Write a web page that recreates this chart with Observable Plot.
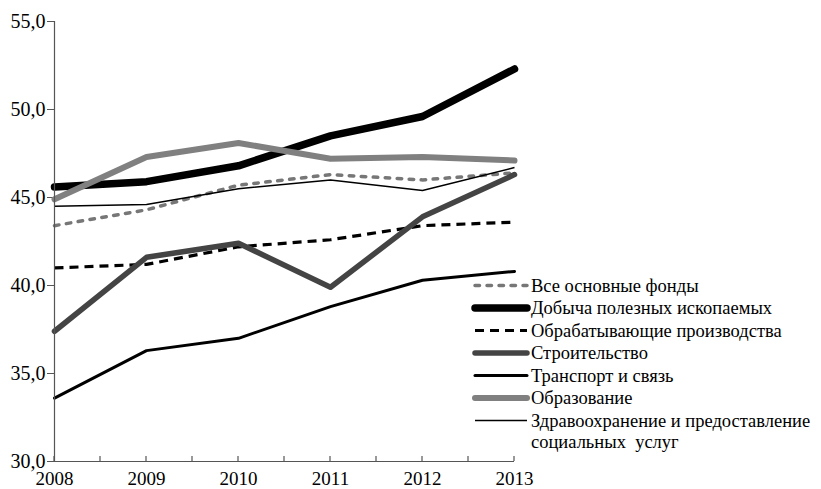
<!DOCTYPE html>
<html><head><meta charset="utf-8">
<script src="https://cdn.jsdelivr.net/npm/d3@7"></script>
<script src="https://cdn.jsdelivr.net/npm/@observablehq/plot@0.6"></script>
<style>body{margin:0;background:#fff}</style>
</head><body><div id="chart"></div>
<script>
const years = [2008, 2009, 2010, 2011, 2012, 2013];
const vseFondy = [43.4, 44.3, 45.7, 46.3, 46.0, 46.4];
const dobycha = [45.6, 45.9, 46.8, 48.5, 49.6, 52.3];
const obrabat = [41.0, 41.2, 42.2, 42.6, 43.4, 43.6];
const stroit = [37.4, 41.6, 42.4, 39.9, 43.9, 46.3];
const transport = [33.6, 36.3, 37.0, 38.8, 40.3, 40.8];
const obrazovanie = [44.9, 47.3, 48.1, 47.2, 47.3, 47.1];
const zdrav = [44.5, 44.6, 45.5, 46.0, 45.4, 46.7];
const yTicks = [30, 35, 40, 45, 50, 55];

const series = [
  {name: "Все основные фонды", values: vseFondy, stroke: "#777", w: 3.5, dash: "4.5,7.5", cap: "round"},
  {name: "Добыча полезных ископаемых", values: dobycha, stroke: "#000", w: 7.5, dash: null, cap: "round"},
  {name: "Обрабатывающие производства", values: obrabat, stroke: "#000", w: 3.2, dash: "9,6", cap: "butt"},
  {name: "Строительство", values: stroit, stroke: "#444", w: 5.5, dash: null, cap: "round"},
  {name: "Транспорт и связь", values: transport, stroke: "#000", w: 3, dash: null, cap: "round"},
  {name: "Образование", values: obrazovanie, stroke: "#808080", w: 6, dash: null, cap: "round"},
  {name: "Здравоохранение и предоставление социальных  услуг", values: zdrav, stroke: "#000", w: 1.5, dash: null, cap: "butt"}
];

const fmt = d => d.toFixed(1).replace(".", ",");
const font = "Liberation Serif, Times New Roman, serif";

const lineMarks = series.map(s => Plot.line(years.map((y, i) => ({year: y, v: s.values[i]})), {
  x: "year", y: "v", stroke: s.stroke, strokeWidth: s.w,
  strokeDasharray: s.dash, strokeLinecap: s.cap, strokeLinejoin: "round"
}));

const chart = Plot.plot({
  width: 821, height: 489,
  marginLeft: 54, marginRight: 307, marginTop: 21, marginBottom: 28,
  style: {fontFamily: font, fontSize: "20px", color: "#000", background: "#fff"},
  x: {domain: [2008, 2013]},
  y: {domain: [30, 55]},
  marks: [
    Plot.axisY({ticks: yTicks, tickFormat: fmt, tickSize: 7, tickPadding: 2, label: null, stroke: "#555", fontSize: 20, fill: "#000"}),
    Plot.axisX({ticks: years, tickFormat: d => String(d), tickSize: 0, tickPadding: 10, label: null, fontSize: 19, fill: "#000"}),
    ...lineMarks,
    Plot.ruleX([2008], {stroke: "#555", strokeWidth: 1.2}),
    Plot.ruleY([30], {stroke: "#555", strokeWidth: 1.2})
  ]
});
document.getElementById("chart").appendChild(chart);

// upward ticks on the x axis (integer and half years)
const svg = d3.select(chart);
const xs = chart.scale("x"), ys = chart.scale("y");
const tickYears = d3.range(2008, 2013.01, 0.5);
svg.append("g").selectAll("line").data(tickYears).join("line")
  .attr("x1", d => xs.apply(d)).attr("x2", d => xs.apply(d))
  .attr("y1", ys.apply(30)).attr("y2", ys.apply(30) - 5)
  .attr("stroke", "#555").attr("stroke-width", 1.2);

// legend
const lg = svg.append("g").attr("text-anchor", "start");
const lx0 = 475, lx1 = 527, ly0 = 285.5, dy = 22.5, fs = 18.5;
series.forEach((s, i) => {
  const y = ly0 + i * dy;
  lg.append("line").attr("x1", lx0).attr("x2", lx1).attr("y1", y).attr("y2", y)
    .attr("stroke", s.stroke).attr("stroke-width", s.w)
    .attr("stroke-dasharray", s.dash).attr("stroke-linecap", s.cap);
  const parts = s.name.split(" предоставление ");
  const addText = (t, yy) => lg.append("text").attr("x", lx1 + 4).attr("y", yy).attr("dy", "0.35em")
      .attr("font-family", font).attr("font-size", fs).attr("fill", "#000")
      .style("white-space", "pre").text(t);
  if (parts.length === 2) {
    addText(parts[0] + " предоставление", y);
    addText(parts[1], y + 21);
  } else {
    addText(s.name, y);
  }
});
</script></body></html>
